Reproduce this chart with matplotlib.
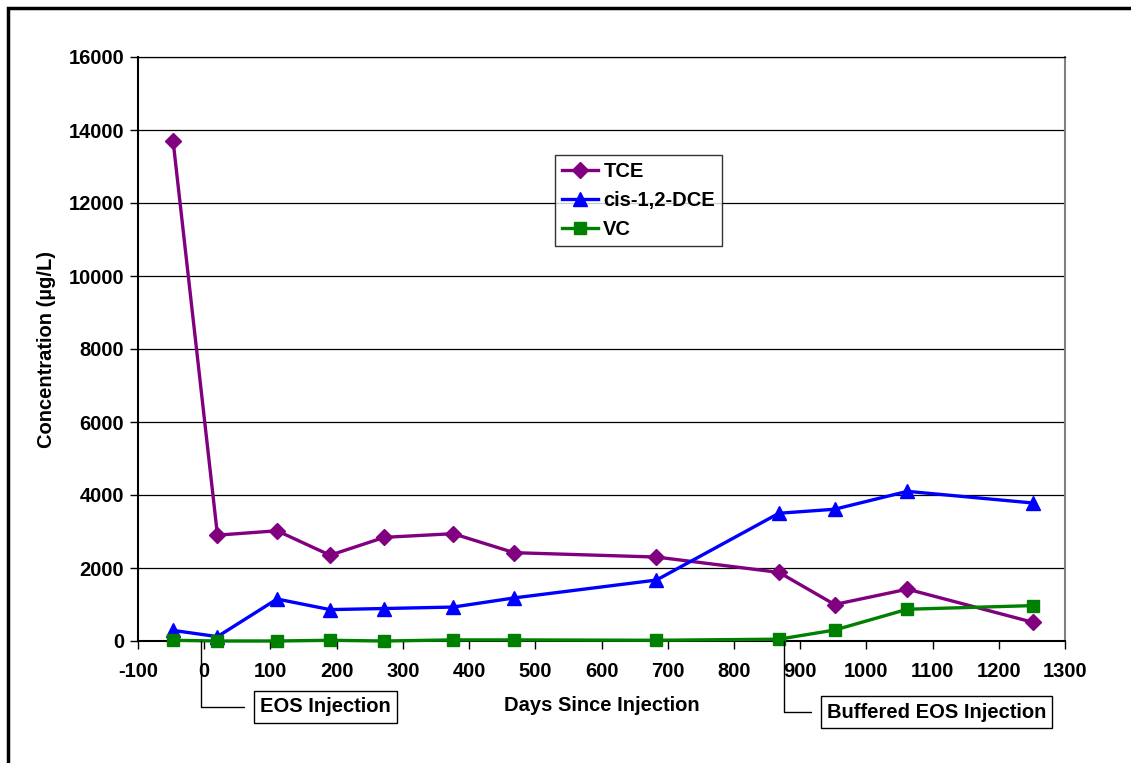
import matplotlib
matplotlib.use("Agg")
import matplotlib.pyplot as plt
from matplotlib.patches import Rectangle

days = [-47, 20, 110, 190, 272, 376, 468, 683, 868, 952, 1062, 1252]
tce = [13700, 2900, 3020, 2350, 2840, 2940, 2420, 2300, 1880, 1000, 1420, 510]
dce = [290, 120, 1150, 860, 890, 930, 1180, 1670, 3500, 3610, 4100, 3780]
vc = [20, 0, 0, 20, 0, 30, 30, 20, 50, 300, 870, 970]

xticks = list(range(-100, 1301, 100))
yticks = list(range(0, 16001, 2000))

plt.rcParams['font.family'] = ['Liberation Sans', 'DejaVu Sans']
plt.rcParams['font.weight'] = 'bold'
plt.rcParams['axes.unicode_minus'] = False

FS = 14.5
W, H = 1131, 763
fig = plt.figure(figsize=(W / 100, H / 100), dpi=100)
ax = fig.add_axes([138 / W, 1 - 641 / H, 927 / W, 584 / H])

ax.plot(days, tce, color='#800080', lw=2.4, marker='D', ms=8.5, label='TCE', zorder=3, clip_on=False)
ax.plot(days, dce, color='#0000FF', lw=2.4, marker='^', ms=10, label='cis-1,2-DCE', zorder=3, clip_on=False)
ax.plot(days, vc, color='#008000', lw=2.4, marker='s', ms=9, label='VC', zorder=3, clip_on=False)

ax.set_xlim(-100, 1300)
ax.set_ylim(0, 16000)
ax.set_xticks(xticks)
ax.set_yticks(yticks)
ax.tick_params(axis='both', direction='out', length=6, width=1, labelsize=FS, colors='black')
ax.tick_params(axis='x', pad=9)
ax.tick_params(axis='y', pad=4)
for lab in ax.get_xticklabels() + ax.get_yticklabels():
    lab.set_fontweight('bold')
ax.yaxis.grid(True, color='black', lw=0.9)
ax.set_axisbelow(True)
for s in ['left', 'bottom']:
    ax.spines[s].set_linewidth(1.5)
    ax.spines[s].set_color('black')
ax.spines['top'].set_linewidth(0.9)
ax.spines['right'].set_color('#808080')
ax.spines['right'].set_linewidth(1.5)

ax.set_xlabel('Days Since Injection', fontsize=FS, fontweight='bold', labelpad=11)
ax.set_ylabel('Concentration (µg/L)', fontsize=FS, fontweight='bold', labelpad=9)

leg = ax.legend(loc='upper left', bbox_to_anchor=((555 - 138) / 927, (641 - 155) / 584),
                fontsize=FS, frameon=True, fancybox=False, edgecolor='black',
                handlelength=1.8, handletextpad=0.25, borderpad=0.35, labelspacing=0.5,
                borderaxespad=0)
leg.get_frame().set_linewidth(1.0)
for t in leg.get_texts():
    t.set_fontweight('bold')

def note(text, xd, tx, ty):
    ax.annotate(text, xy=(xd, 0), xycoords='data',
                xytext=(tx / W, 1 - ty / H), textcoords='figure fraction',
                ha='left', va='center', fontsize=FS, fontweight='bold',
                bbox=dict(boxstyle='square,pad=0.3', fc='white', ec='black', lw=1.0),
                arrowprops=dict(arrowstyle='-', color='black', lw=1.0,
                                connectionstyle='angle,angleA=0,angleB=90,rad=0',
                                shrinkA=7, shrinkB=0),
                annotation_clip=False)

note('EOS Injection', -5, 260, 707)
note('Buffered EOS Injection', 875, 827, 712)

fig.patches.append(Rectangle((8 / W, -0.1), 1.2, 1 - 8 / H + 0.1, transform=fig.transFigure,
                             fill=False, ec='black', lw=2.5))

fig.savefig('out.png', dpi=100)
